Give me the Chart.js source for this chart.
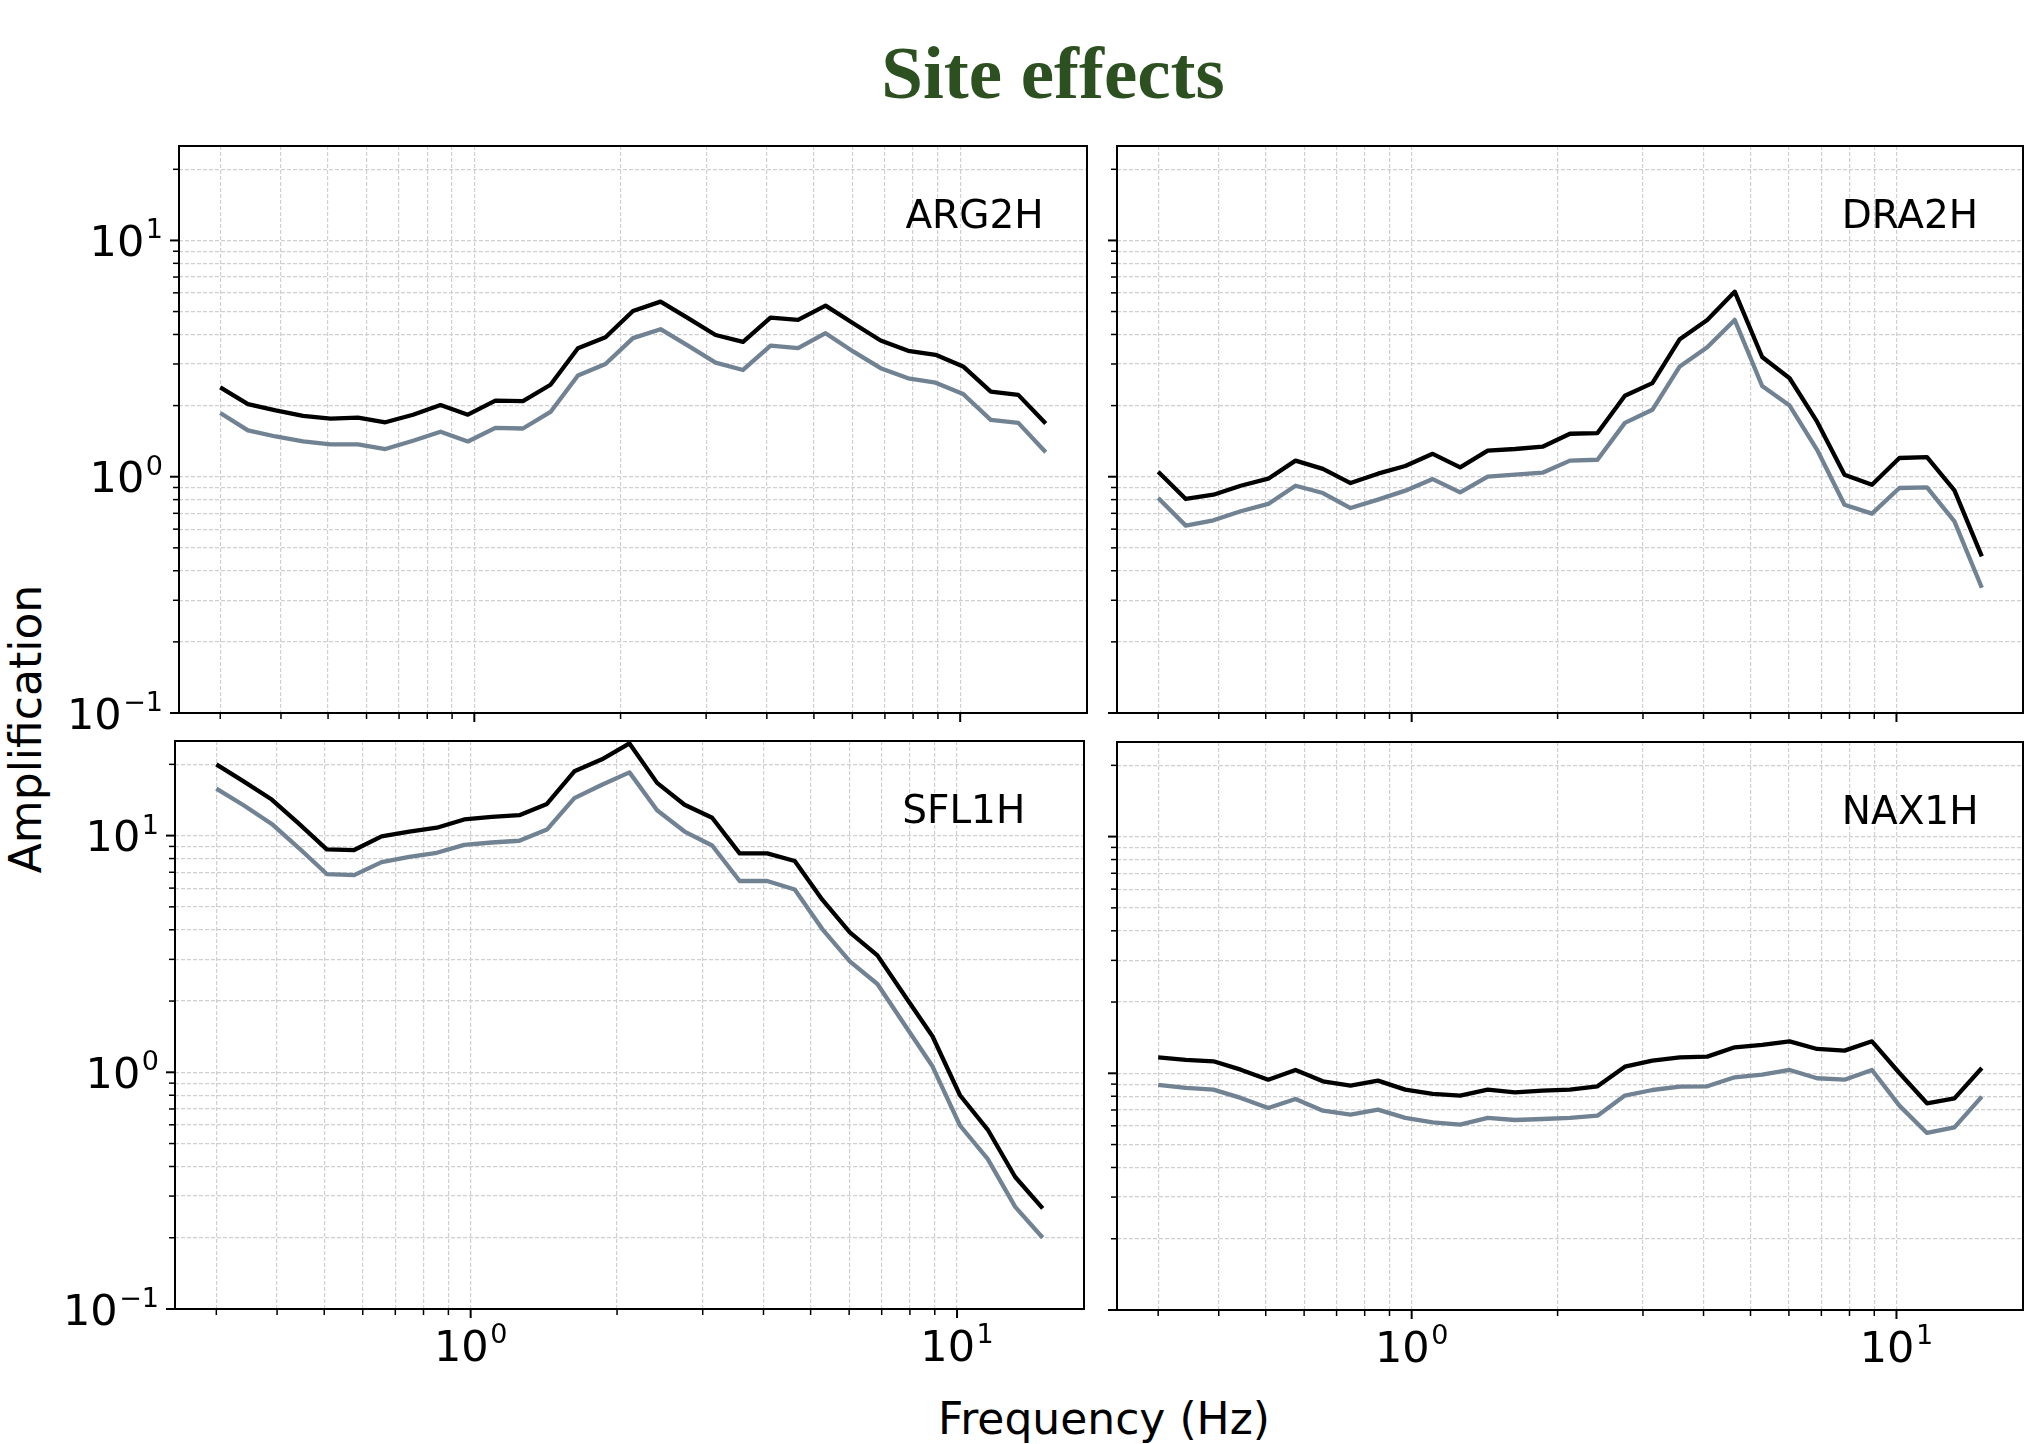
<!DOCTYPE html>
<html>
<head>
<meta charset="utf-8">
<script src="https://cdn.jsdelivr.net/npm/chart.js@4.4.1/dist/chart.umd.min.js"></script>
<style>
  html, body { margin: 0; padding: 0; background: #ffffff; }
  body { width: 2038px; height: 1444px; position: relative; overflow: hidden; }
  canvas.panel { position: absolute; }
  #title { position: absolute; left: 553px; top: 35px; width: 1000px; text-align: center;
           font: bold 75px 'Liberation Serif', 'Times New Roman', serif; line-height: 1; color: #2d5020; }
  #xlab { position: absolute; left: 804px; top: 1397px; width: 600px; text-align: center;
          font: 44px 'DejaVu Sans', sans-serif; line-height: 1; color: #000; }
  #ylab { position: absolute; left: -224px; top: 707px; width: 500px; height: 44px; text-align: center;
          font: 44px 'DejaVu Sans', sans-serif; line-height: 44px; color: #000;
          transform: rotate(-90deg); transform-origin: 50% 50%; }
</style>
</head>
<body>
<div id="title">Site effects</div>
<div id="ylab">Amplification</div>
<div id="xlab">Frequency (Hz)</div>

<canvas id="pARG" class="panel"></canvas>
<canvas id="pDRA" class="panel"></canvas>
<canvas id="pSFL" class="panel"></canvas>
<canvas id="pNAX" class="panel"></canvas>

<script>
// ---------------- data ----------------
const freqs = [0.300, 0.342, 0.390, 0.444, 0.506, 0.576, 0.656, 0.748, 0.852, 0.970,
               1.105, 1.259, 1.435, 1.634, 1.862, 2.121, 2.417, 2.753, 3.137, 3.573,
               4.071, 4.638, 5.284, 6.020, 6.859, 7.814, 8.902, 10.14, 11.56, 13.17, 15.00];

const stations = ['ARG2H', 'DRA2H', 'SFL1H', 'NAX1H'];

const ARG2H_upper = [2.39, 2.03, 1.91, 1.81, 1.76, 1.78, 1.70, 1.83, 2.01, 1.83,
                     2.10, 2.09, 2.45, 3.50, 3.89, 5.03, 5.51, 4.69, 3.98, 3.72,
                     4.71, 4.61, 5.30, 4.46, 3.77, 3.41, 3.28, 2.93, 2.29, 2.22, 1.68];
const ARG2H_lower = [1.86, 1.57, 1.48, 1.41, 1.37, 1.37, 1.31, 1.42, 1.55, 1.41,
                     1.61, 1.60, 1.88, 2.68, 3.00, 3.86, 4.21, 3.59, 3.04, 2.83,
                     3.59, 3.50, 4.05, 3.39, 2.88, 2.61, 2.50, 2.24, 1.74, 1.69, 1.27];

const DRA2H_upper = [1.05, 0.805, 0.839, 0.916, 0.981, 1.17, 1.08, 0.94, 1.03, 1.11,
                     1.25, 1.095, 1.29, 1.31, 1.34, 1.52, 1.53, 2.20, 2.49, 3.82,
                     4.61, 6.07, 3.21, 2.61, 1.71, 1.02, 0.925, 1.20, 1.21, 0.875, 0.46];
const DRA2H_lower = [0.813, 0.621, 0.654, 0.714, 0.767, 0.916, 0.853, 0.737, 0.800, 0.873,
                     0.977, 0.859, 1.00, 1.02, 1.04, 1.17, 1.18, 1.69, 1.92, 2.93,
                     3.53, 4.61, 2.42, 2.00, 1.30, 0.761, 0.698, 0.896, 0.902, 0.647, 0.339];

const SFL1H_upper = [20.0, 16.9, 14.2, 11.2, 8.75, 8.69, 9.93, 10.4, 10.8, 11.7,
                     12.0, 12.2, 13.6, 18.7, 21.0, 24.5, 16.7, 13.5, 11.9, 8.41,
                     8.41, 7.81, 5.36, 3.90, 3.12, 2.10, 1.42, 0.80, 0.573, 0.361, 0.266];
const SFL1H_lower = [15.8, 13.4, 11.2, 8.84, 6.88, 6.81, 7.73, 8.13, 8.46, 9.14,
                     9.35, 9.51, 10.6, 14.4, 16.4, 18.5, 12.8, 10.4, 9.08, 6.43,
                     6.43, 5.92, 4.03, 2.94, 2.36, 1.58, 1.06, 0.596, 0.431, 0.270, 0.200];

const NAX1H_upper = [1.168, 1.140, 1.124, 1.036, 0.940, 1.033, 0.925, 0.887, 0.931, 0.853,
                     0.818, 0.805, 0.853, 0.831, 0.845, 0.853, 0.881, 1.067, 1.131, 1.168,
                     1.176, 1.288, 1.318, 1.365, 1.267, 1.247, 1.365, 1.003, 0.747, 0.784, 1.053];
const NAX1H_lower = [0.893, 0.867, 0.853, 0.787, 0.714, 0.779, 0.695, 0.669, 0.702, 0.648,
                     0.621, 0.607, 0.648, 0.635, 0.641, 0.648, 0.662, 0.805, 0.850, 0.878,
                     0.881, 0.962, 0.987, 1.033, 0.953, 0.940, 1.033, 0.730, 0.560, 0.591, 0.797];

// axis limits and tick values
const X_MIN = 0.2467, X_MAX = 18.24;
const Y_MIN = 0.1, Y_MAX = 25.1;
const X_TICKS = [0.3, 0.4, 0.5, 0.6, 0.7, 0.8, 0.9, 1, 2, 3, 4, 5, 6, 7, 8, 9, 10];
const Y_TICKS = [0.1, 0.2, 0.3, 0.4, 0.5, 0.6, 0.7, 0.8, 0.9, 1, 2, 3, 4, 5, 6, 7, 8, 9, 10, 20];

// ---------------- styling ----------------
const TICK_FONT = "'DejaVu Sans', sans-serif";
const BASE_SIZE = 43, SUP_SIZE = 27, SUP_RISE = 17.7, SUP_GAP = 1.5;
const UPPER_COLOR = '#000000';
const LOWER_COLOR = '#718293';
const GRID_COLOR = '#d0d0d0';

function isDecade(v) {
  const e = Math.log10(v);
  return Math.abs(e - Math.round(e)) < 1e-9;
}
function decadeParts(v) {
  const e = Math.round(Math.log10(v));
  return { base: '10', sup: (e < 0 ? '\u2212' : '') + String(Math.abs(e)) };
}
// draws "10" with a raised exponent; (x, baseline) is the anchor, align 'right' or 'center'
function drawPowerLabel(ctx, v, x, baseline, align) {
  const p = decadeParts(v);
  ctx.font = BASE_SIZE + 'px ' + TICK_FONT;
  const wb = ctx.measureText(p.base).width;
  ctx.font = SUP_SIZE + 'px ' + TICK_FONT;
  const ws = ctx.measureText(p.sup).width;
  const total = wb + SUP_GAP + ws;
  const x0 = align === 'right' ? x - total : x - total / 2;
  ctx.textAlign = 'left';
  ctx.textBaseline = 'alphabetic';
  ctx.font = BASE_SIZE + 'px ' + TICK_FONT;
  ctx.fillText(p.base, x0, baseline);
  ctx.font = SUP_SIZE + 'px ' + TICK_FONT;
  ctx.fillText(p.sup, x0 + wb + SUP_GAP, baseline - SUP_RISE);
}

const panelDecor = {
  id: 'panelDecor',
  afterDraw(chart, args, opts) {
    const { ctx, chartArea: a } = chart;
    const xs = chart.scales.x, ys = chart.scales.y;
    ctx.save();
    ctx.strokeStyle = '#000';
    ctx.fillStyle = '#000';
    ctx.lineCap = 'butt';
    xs.ticks.forEach(t => {
      const px = xs.getPixelForValue(t.value);
      const major = isDecade(t.value);
      ctx.lineWidth = major ? 2 : 1.5;
      ctx.beginPath();
      ctx.moveTo(px, a.bottom);
      ctx.lineTo(px, a.bottom + (major ? 9 : 6));
      ctx.stroke();
      if (major && opts.xLabels) drawPowerLabel(ctx, t.value, px, a.bottom + 52, 'center');
    });
    ys.ticks.forEach(t => {
      const py = ys.getPixelForValue(t.value);
      const major = isDecade(t.value);
      ctx.lineWidth = major ? 2 : 1.5;
      ctx.beginPath();
      ctx.moveTo(a.left, py);
      ctx.lineTo(a.left - (major ? 9 : 6), py);
      ctx.stroke();
      if (major && opts.yLabels) drawPowerLabel(ctx, t.value, a.left - 16, py + 15.7, 'right');
    });
    ctx.lineWidth = 2;
    ctx.strokeRect(a.left, a.top, a.right - a.left, a.bottom - a.top);
    ctx.font = "39px " + TICK_FONT;
    ctx.textAlign = 'left';
    ctx.textBaseline = 'middle';
    ctx.fillText(opts.label, a.left + 0.8 * (a.right - a.left), a.top + 0.127 * (a.bottom - a.top));
    ctx.restore();
  }
};

const panels = [
  { id: 'pARG', name: stations[0], up: ARG2H_upper, lo: ARG2H_lower, left: 179, top: 146, w: 908, h: 567, xLab: false, yLab: true },
  { id: 'pDRA', name: stations[1], up: DRA2H_upper, lo: DRA2H_lower, left: 1117, top: 146, w: 906, h: 567, xLab: false, yLab: false },
  { id: 'pSFL', name: stations[2], up: SFL1H_upper, lo: SFL1H_lower, left: 175, top: 741, w: 909, h: 568, xLab: true, yLab: true },
  { id: 'pNAX', name: stations[3], up: NAX1H_upper, lo: NAX1H_lower, left: 1117, top: 742, w: 906, h: 568, xLab: true, yLab: false }
];

function zeroPad(s) { s.paddingLeft = 0; s.paddingRight = 0; s.paddingTop = 0; s.paddingBottom = 0; }

panels.forEach(p => {
  const L = p.yLab ? 170 : 20, B = p.xLab ? 80 : 20, T = 10, R = 10;
  const cv = document.getElementById(p.id);
  cv.width = L + p.w + R;
  cv.height = T + p.h + B;
  cv.style.left = (p.left - L) + 'px';
  cv.style.top = (p.top - T) + 'px';
  cv.style.width = cv.width + 'px';
  cv.style.height = cv.height + 'px';

  new Chart(cv, {
    type: 'line',
    data: {
      datasets: [
        { data: freqs.map((f, i) => ({ x: f, y: p.up[i] })), borderColor: UPPER_COLOR, borderWidth: 4.3,
          pointRadius: 0, tension: 0, fill: false, borderJoinStyle: 'round' },
        { data: freqs.map((f, i) => ({ x: f, y: p.lo[i] })), borderColor: LOWER_COLOR, borderWidth: 4.3,
          pointRadius: 0, tension: 0, fill: false, borderJoinStyle: 'round' }
      ]
    },
    options: {
      responsive: false,
      animation: false,
      devicePixelRatio: 1,
      events: [],
      layout: { autoPadding: false, padding: { left: 0, top: T, right: R, bottom: 0 } },
      plugins: { legend: { display: false }, tooltip: { enabled: false },
                 panelDecor: { label: p.name, xLabels: p.xLab, yLabels: p.yLab } },
      scales: {
        x: {
          type: 'logarithmic', min: X_MIN, max: X_MAX,
          afterBuildTicks: s => { s.ticks = X_TICKS.map(v => ({ value: v })); },
          afterFit: s => { s.height = B; zeroPad(s); },
          grid: { color: GRID_COLOR, lineWidth: 1.2, drawTicks: false },
          border: { display: false, dash: [4, 2] },
          ticks: { display: false, autoSkip: false }
        },
        y: {
          type: 'logarithmic', min: Y_MIN, max: Y_MAX,
          afterBuildTicks: s => { s.ticks = Y_TICKS.map(v => ({ value: v })); },
          afterFit: s => { s.width = L; zeroPad(s); },
          grid: { color: GRID_COLOR, lineWidth: 1.2, drawTicks: false },
          border: { display: false, dash: [4, 2] },
          ticks: { display: false, autoSkip: false }
        }
      }
    },
    plugins: [panelDecor]
  });
});
</script>
</body>
</html>
